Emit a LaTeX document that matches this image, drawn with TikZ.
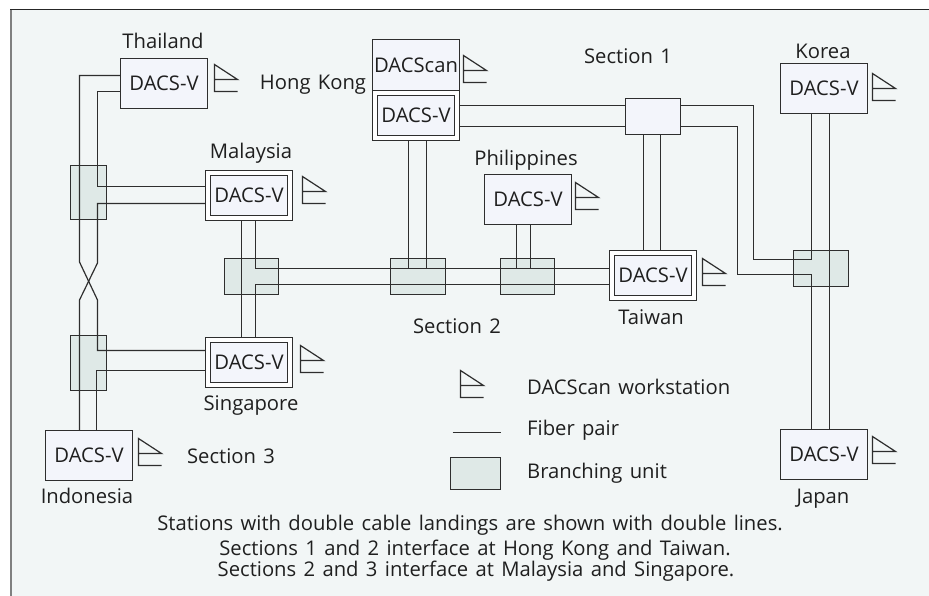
\documentclass[tikz,border=0pt]{standalone}
\usepackage{fontspec}
\setmainfont[WordSpace=1.4]{Open Sans}
\definecolor{bgc}{HTML}{F2F6F6}
\definecolor{boxc}{HTML}{F3F5FB}
\definecolor{unitc}{HTML}{DFE9E7}
\definecolor{linec}{HTML}{2E2E2E}
\definecolor{framec}{HTML}{808080}
\tikzset{
  lbl/.style={inner sep=0pt,text=black!88,font=\fontsize{20.3}{24}\selectfont},
  st/.style={draw=linec,line width=1.2bp,fill=boxc,minimum width=87bp,minimum height=50bp,inner sep=0pt,font=\fontsize{20.3}{24}\selectfont,text=black!88},
  dbl/.style={st,fill=white,path picture={\fill[boxc,draw=linec,line width=1.2bp]([shift={(5bp,5bp)}]path picture bounding box.south west) rectangle ([shift={(-5bp,-5bp)}]path picture bounding box.north east);}},
  bu/.style={draw=linec,line width=1.2bp,fill=unitc,inner sep=0pt},
  fib/.style={draw=linec,line width=1.2bp},
  pics/ws/.style={code={\draw[draw=linec,line width=1.2bp,line join=miter] (0,0)--(23,15)--(0,15)--cycle (0,15)--(0,27)--(23,27);}}
}
\begin{document}
\begin{tikzpicture}[x=1bp,y=-1bp]
\useasboundingbox (0,0) rectangle (929,596);
\fill[white] (0,0) rectangle (929,596);
\fill[bgc] (11,10) rectangle (929,596);
\draw[framec,line width=2bp] (11,596)--(11,10);
\draw[black!85,line width=1bp] (10,9.5)--(929,9.5);
% branching units
\node[bu,minimum width=36bp,minimum height=54bp] (bua) at (88.5,192.5) {};
\node[bu,minimum width=36bp,minimum height=55bp] (bub) at (88.5,363) {};
\node[bu,minimum width=54bp,minimum height=36bp] (buc) at (251.5,276.5) {};
\node[bu,minimum width=55bp,minimum height=36bp] (bud) at (418,276.5) {};
\node[bu,minimum width=54bp,minimum height=36bp] (bue) at (527.5,276.5) {};
\node[bu,minimum width=55bp,minimum height=36bp] (buf) at (821,268.5) {};
\node[bu,fill=boxc,minimum width=55bp,minimum height=36bp] (sw) at (653,116.5) {};
% stations
\node[st] (th) at (164,83.5) {DACS-V};
\node[st] (id) at (89,455.5) {DACS-V};
\node[st] (ph) at (528,199.5) {DACS-V};
\node[st] (kr) at (824,88.5) {DACS-V};
\node[st] (jp) at (824,454.5) {DACS-V};
\node[dbl] (my) at (249,195.5) {DACS-V};
\node[dbl] (sg) at (249,362.5) {DACS-V};
\node[dbl] (tw) at (653,275.5) {DACS-V};
\node[st,minimum height=51bp] (ds) at (416,65) {DACScan};
\node[dbl] (hk) at (416,115.5) {DACS-V};
% free bends
\coordinate (xa) at (79.5,262); \coordinate (xb) at (97.5,263);
\coordinate (xc) at (79.5,300); \coordinate (xd) at (97.5,300);
% fibres
\draw[fib] (th.west|-0,75.5) -| (xa) -- (xd) |- (sg.west|-0,350.5);
\draw[fib] (th.west|-0,91.5) -| (97.5,186.5) -- (my.west|-0,186.5);
\draw[fib] (my.west|-0,203.5) -| (xb) -- (xc) -- (xc|-id.north);
\draw[fib] (sg.west|-0,370.5) -| (96.5,430.5);
\draw[fib] (241.5,220.5) -- (241.5,337.5);
\draw[fib] (255.5,220.5) |- (tw.west|-0,268.5) ;
\draw[fib] (255.5,337.5) |- (tw.west|-0,284.5);
\draw[fib] (408.5,140.5) -- (408.5,268.5);
\draw[fib] (426.5,140.5) -- (426.5,268.5) -| (516.5,224.5);
\draw[fib] (530.5,224.5) -- (530.5,268.5);
\draw[fib] (hk.east|-0,105.5) -- (sw.west|-0,105.5);
\draw[fib] (hk.east|-0,126.5) -- (sw.west|-0,126.5);
\draw[fib] (643.5,134.5) -- (643.5,250.5);
\draw[fib] (660.5,134.5) -- (660.5,250.5);
\draw[fib] (sw.east|-0,105.5) -| (753.5,259.5) -| (811.5,113.5);
\draw[fib] (sw.east|-0,126.5) -| (737.5,274.5) -| (811.5,429.5);
\draw[fib] (829.5,113.5) -- (829.5,429.5);
% workstations
\foreach \wx/\wy in {214.5/64.5,138.5/438.5,302.5/176.5,300.5/345.5,463.5/55.5,575.5/182.5,702.5/258.5,872.5/73.5,872.5/436.5,460.5/370.5}
  \pic at (\wx,\wy) {ws};
% legend
\draw[fib] (452.5,432.5) -- (500.5,432.5);
\node[bu,minimum width=50bp,minimum height=32bp] (lgu) at (475.5,473.5) {};
% labels
\node[lbl] (lth) at (163,41) {Thailand};
\node[lbl] (lmy) at (251,153) {Malaysia};
\node[lbl] (lsg) at (251,406) {Singapore};
\node[lbl] (lid) at (87,496) {Indonesia};
\node[lbl] (lhk) at (313,85) {Hong Kong};
\node[lbl] (lph) at (526,160) {Philippines};
\node[lbl] (ltw) at (651,317) {Taiwan};
\node[lbl] (lkr) at (823,51) {Korea};
\node[lbl] (ljp) at (823,499) {Japan};
\node[lbl] (ls1) at (628,56) {Section 1};
\node[lbl] (ls2) at (457,326) {Section 2};
\node[lbl] (ls3) at (231,456) {Section 3};
\node[lbl,anchor=west] (lg1) at (527,387) {DACScan workstation};
\node[lbl,anchor=west] (lg2) at (527,430) {Fiber pair};
\node[lbl,anchor=west] (lg3) at (527,473) {Branching unit};
\node[lbl] (n1) at (470,525) {Stations with double cable landings are shown with double lines.};
\node[lbl] (n2) at (475,550) {Sections 1 and 2 interface at Hong Kong and Taiwan.};
\node[lbl] (n3) at (476,571) {Sections 2 and 3 interface at Malaysia and Singapore.};
\end{tikzpicture}
\end{document}
